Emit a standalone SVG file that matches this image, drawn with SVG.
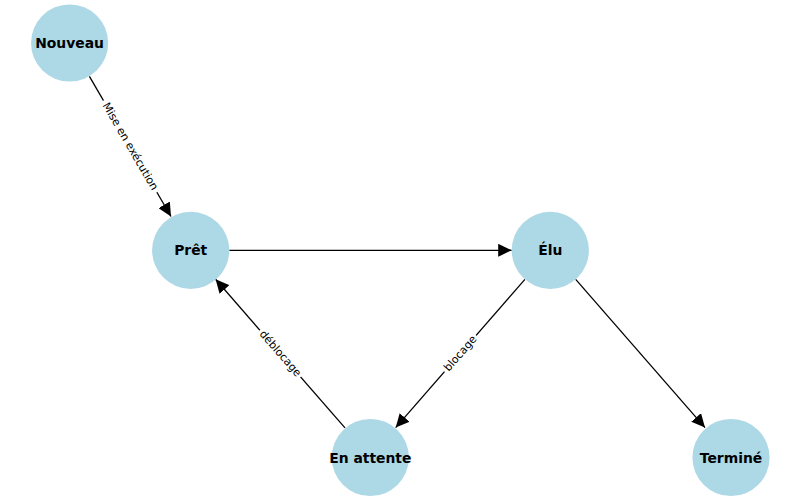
<svg xmlns="http://www.w3.org/2000/svg" width="800" height="500" viewBox="0 0 800 500">
<style>
.node circle{fill:#ADD8E6;stroke:none}
.node text{font-family:"DejaVu Sans",sans-serif;font-weight:bold;font-size:13.9px;text-anchor:middle;dominant-baseline:central;fill:#000}
.edge{stroke:#000;stroke-width:1.3;fill:none;marker-end:url(#arr)}
.lbl{font-family:"DejaVu Sans",sans-serif;font-size:11px;text-anchor:middle;dominant-baseline:central;fill:#000}
.bg{fill:#ffffff;stroke:none}
</style>
<defs>
<marker id="arr" markerUnits="userSpaceOnUse" markerWidth="14" markerHeight="13" refX="13.5" refY="6.5" orient="auto">
<path d="M0,0 L13.5,6.5 L0,13 Z" fill="#000"/>
</marker>
</defs>
<rect width="800" height="500" fill="#ffffff"/>
<g id="connectors">
<line class="edge" x1="89.4" y1="76.3" x2="171" y2="216.5"/>
<line class="edge" x1="229.3" y1="250.3" x2="511.7" y2="250.3"/>
<line class="edge" x1="524.9" y1="279.4" x2="395.7" y2="427.6"/>
<line class="edge" x1="345" y1="427.9" x2="215.6" y2="279.3"/>
<line class="edge" x1="575.7" y1="279.4" x2="705" y2="427.6"/>
</g>
<g id="edge-labels">
<g transform="translate(130.2,146.4) rotate(59.8)">
<rect class="bg" x="-53" y="-7.5" width="106" height="15" rx="3"/>
<text class="lbl" x="0" y="0">Mise en exécution</text>
</g>
<g transform="translate(460.3,353.5) rotate(-48.9)">
<rect class="bg" x="-24" y="-7.5" width="48" height="15" rx="3"/>
<text class="lbl" x="0" y="0">blocage</text>
</g>
<g transform="translate(280.3,353.5) rotate(48.9)">
<rect class="bg" x="-31" y="-7.5" width="62" height="15" rx="3"/>
<text class="lbl" x="0" y="0">déblocage</text>
</g>
</g>
<g id="nouveau" class="node"><circle cx="69.6" cy="43" r="38.6"/><text x="69.6" y="43">Nouveau</text></g>
<g id="pret" class="node"><circle cx="190.7" cy="250.3" r="38.6"/><text x="190.7" y="250.3">Prêt</text></g>
<g id="elu" class="node"><circle cx="550.3" cy="250.3" r="38.6"/><text x="550.3" y="250.3">Élu</text></g>
<g id="en-attente" class="node"><circle cx="370.3" cy="457.5" r="38.6"/><text x="370.3" y="457.5">En attente</text></g>
<g id="termine" class="node"><circle cx="731" cy="457.5" r="38.6"/><text x="731" y="457.5">Terminé</text></g>
</svg>
